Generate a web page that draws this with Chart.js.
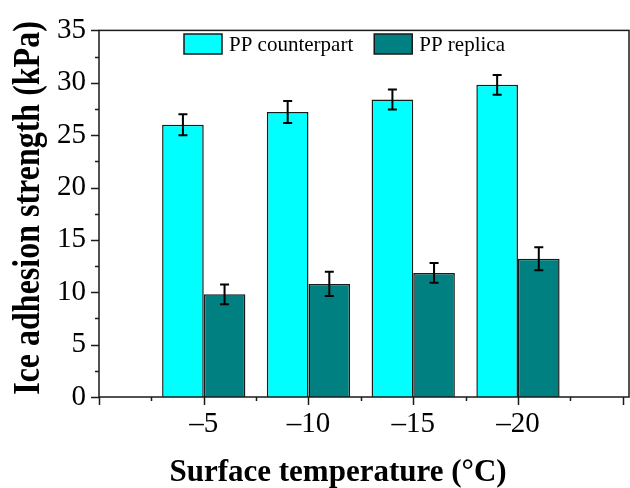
<!DOCTYPE html>
<html><head><meta charset="utf-8">
<script src="https://cdn.jsdelivr.net/npm/chart.js@4"></script>
<style>html,body{margin:0;padding:0;background:#fff}canvas{display:block}</style>
</head><body>
<canvas id="c" width="630" height="488"></canvas>
<script>
const categories = ['\u20135','\u201310','\u201315','\u201320'];
const seriesNames = ['PP counterpart','PP replica'];
const counterpart = [26.0, 27.2, 28.4, 29.8];
const counterpartErr = [1.0, 1.05, 0.95, 0.95];
const replica = [9.8, 10.8, 11.85, 13.2];
const replicaErr = [0.95, 1.15, 0.95, 1.1];
const yTicks = [0, 5, 10, 15, 20, 25, 30, 35];
const xTitle = 'Surface temperature (\u00B0C)';
const yTitle = 'Ice adhesion strength (kPa)';

const SERIF = "'Liberation Serif','Times New Roman',serif";
const toPts = arr => arr.map((v, i) => ({x: i + 1, y: v}));

const framePlugin = {
  id: 'frame',
  afterDraw(chart) {
    const {ctx, chartArea: a, scales: {x, y}} = chart;
    ctx.save();
    ctx.strokeStyle = '#1a1a1a';
    ctx.lineWidth = 1.5;
    ctx.strokeRect(a.left, a.top, a.right - a.left, a.bottom - a.top);
    ctx.beginPath();
    // y ticks
    for (let v = 0; v <= 35 + 1e-9; v += 2.5) {
      const py = Math.round(y.getPixelForValue(v)) + 0.5;
      const major = Math.abs(v % 5) < 1e-9;
      ctx.moveTo(a.left, py); ctx.lineTo(a.left - (major ? 8 : 4), py);
    }
    // x ticks
    for (let v = 0; v <= x.max + 1e-9; v += 0.5) {
      const px = Math.round(x.getPixelForValue(v)) + 0.5;
      const major = Math.abs(v % 1) < 1e-9;
      ctx.moveTo(px, a.bottom); ctx.lineTo(px, a.bottom + (major ? 8 : 4));
    }
    ctx.stroke();
    ctx.restore();
  }
};

const errorBarPlugin = {
  id: 'errbars',
  afterDatasetsDraw(chart) {
    const {ctx, scales: {y}} = chart;
    ctx.save();
    ctx.strokeStyle = '#000';
    ctx.lineWidth = 2;
    chart.data.datasets.forEach((ds, di) => {
      const meta = chart.getDatasetMeta(di);
      meta.data.forEach((el, i) => {
        const v = ds.data[i].y, e = ds.err[i];
        const yt = y.getPixelForValue(v + e), yb = y.getPixelForValue(v - e);
        const cx = el.x;
        ctx.beginPath();
        ctx.moveTo(cx, yt); ctx.lineTo(cx, yb);
        ctx.moveTo(cx - 4.5, yt); ctx.lineTo(cx + 4.5, yt);
        ctx.moveTo(cx - 4.5, yb); ctx.lineTo(cx + 4.5, yb);
        ctx.stroke();
      });
    });
    ctx.restore();
  }
};

const legendPlugin = {
  id: 'legendInside',
  afterDraw(chart) {
    const {ctx} = chart;
    ctx.save();
    ctx.font = '21px ' + SERIF;
    ctx.textBaseline = 'middle';
    ctx.textAlign = 'left';
    let lx = 184;
    const top = 34, bw = 38, bh = 20;
    chart.data.datasets.forEach(ds => {
      ctx.fillStyle = ds.backgroundColor;
      ctx.fillRect(lx, top, bw, bh);
      ctx.strokeStyle = '#1a1a1a';
      ctx.lineWidth = 1.5;
      ctx.strokeRect(lx, top, bw, bh);
      ctx.fillStyle = '#000';
      ctx.fillText(ds.label, lx + bw + 7, top + bh / 2 + 1);
      lx += bw + 7 + ctx.measureText(ds.label).width + 21;
    });
    ctx.restore();
  }
};

const titlePlugin = {
  id: 'axisTitles',
  afterDraw(chart) {
    const {ctx} = chart;
    ctx.save();
    ctx.fillStyle = '#000';
    ctx.font = 'bold 31px ' + SERIF;
    ctx.textAlign = 'center';
    ctx.textBaseline = 'alphabetic';
    ctx.fillText(xTitle, 338, 481);
    ctx.restore();
    ctx.save();
    ctx.fillStyle = '#000';
    ctx.font = 'bold 32px ' + SERIF;
    ctx.textAlign = 'center';
    ctx.textBaseline = 'alphabetic';
    ctx.translate(39, 208);
    ctx.rotate(-Math.PI / 2);
    ctx.scale(1, 1.2);
    ctx.fillText(yTitle, 0, 0);
    ctx.restore();
  }
};

new Chart(document.getElementById('c'), {
  type: 'bar',
  data: {
    datasets: [
      {label: seriesNames[0], data: toPts(counterpart), err: counterpartErr,
       backgroundColor: '#00FFFF', borderColor: '#1a1a1a', borderWidth: 1.5,
       categoryPercentage: 0.795, barPercentage: 1},
      {label: seriesNames[1], data: toPts(replica), err: replicaErr,
       backgroundColor: '#008080', borderColor: '#1a1a1a', borderWidth: 1.5,
       categoryPercentage: 0.795, barPercentage: 1}
    ]
  },
  options: {
    responsive: false,
    devicePixelRatio: 1,
    animation: false,
    layout: {padding: {top: 21, right: 1, left: 0, bottom: 0}},
    plugins: {legend: {display: false}, tooltip: {enabled: false}},
    scales: {
      x: {
        type: 'linear', min: 0, max: 5.06, offset: false,
        grid: {display: false, drawTicks: false},
        border: {display: false},
        afterBuildTicks: s => { s.ticks = categories.map((c, i) => ({value: i + 1})); },
        ticks: {
          callback: (v) => categories[Math.round(v) - 1],
          font: {family: SERIF, size: 29}, color: '#000', padding: 10,
          maxRotation: 0, autoSkip: false
        },
        afterFit: s => { s.height = 91; }
      },
      y: {
        min: 0, max: 35,
        grid: {display: false, drawTicks: false},
        border: {display: false},
        afterBuildTicks: s => { s.ticks = yTicks.map(v => ({value: v})); },
        ticks: {font: {family: SERIF, size: 29}, color: '#000', padding: 13},
        afterFit: s => { s.width = 99; }
      }
    }
  },
  plugins: [framePlugin, errorBarPlugin, legendPlugin, titlePlugin]
});
</script>
</body></html>
